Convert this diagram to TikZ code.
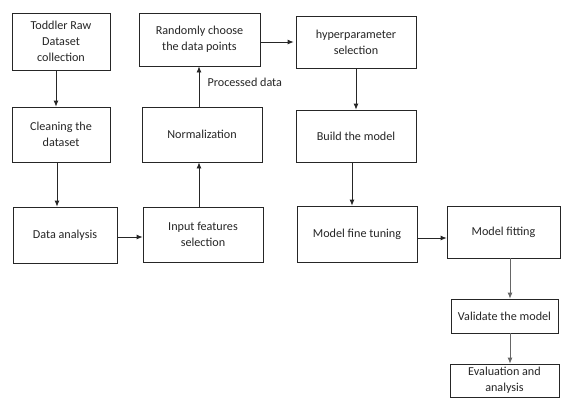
\documentclass[tikz,border=0pt]{standalone}
\usepackage{fontspec}
\setmainfont{Carlito}
\usetikzlibrary{arrows.meta}

\begin{document}
\begin{tikzpicture}[
  x=1bp, y=-1bp,
  every node/.style={font=\fontsize{12.2}{16}\selectfont, text=black!85},
  blk/.style={draw=black!85, line width=0.8bp, align=center, inner sep=0pt},
  arr/.style={draw=black!85, line width=0.8bp, -{Latex[length=6bp, width=5bp]}}
]

  % ==========================================
  % 1. AREA
  % ==========================================
  \useasboundingbox[fill=white] (0,0) rectangle (561,398);

  % ==========================================
  % 2. BLOQUES
  % ==========================================
  \node[blk, minimum width=98bp,  minimum height=57bp] (raw)   at (61,41.5)    {Toddler Raw\\Dataset\\collection};
  \node[blk, minimum width=98bp,  minimum height=55bp] (clean) at (61,134.5)   {Cleaning the\\dataset};
  \node[blk, minimum width=104bp, minimum height=56bp] (anal)  at (65,235)     {Data analysis};
  \node[blk, minimum width=120bp, minimum height=55bp] (feat)  at (203,234.5)  {Input features\\selection};
  \node[blk, minimum width=120bp, minimum height=55bp] (norm)  at (202,134.5)  {Normalization};
  \node[blk, minimum width=121bp, minimum height=53bp] (rand)  at (199.5,39.5) {Randomly choose\\the data points};
  \node[blk, minimum width=120bp, minimum height=52bp] (hyper) at (356,42)     {hyperparameter\\selection};
  \node[blk, minimum width=120bp, minimum height=52bp] (build) at (356,136)    {Build the model};
  \node[blk, minimum width=120bp, minimum height=56bp] (tune)  at (357,234)    {Model fine tuning};
  \node[blk, minimum width=113bp, minimum height=52bp] (fit)   at (503.5,232)  {Model fitting};
  \node[blk, minimum width=107bp, minimum height=34bp] (valid) at (504.5,316)  {Validate the model};
  \node[blk, minimum width=109bp, minimum height=33bp] (eval)  at (504.5,380.5) {Evaluation and\\analysis};

  % ==========================================
  % 3. FLECHAS
  % ==========================================
  \coordinate (a1) at ([xshift=-5bp]raw.south);
  \draw[arr] (a1) -- (a1 |- clean.north);
  \coordinate (a2) at ([xshift=-4bp]clean.south);
  \draw[arr] (a2) -- (a2 |- anal.north);
  \coordinate (a3) at ([yshift=-2bp]anal.east);
  \draw[arr] (a3) -- (a3 -| feat.west);
  \coordinate (a4) at ([xshift=-4bp]feat.north);
  \draw[arr] (a4) -- (a4 |- norm.south);
  \coordinate (a5) at ([xshift=-3bp]norm.north);
  \draw[arr] (a5) -- (a5 |- rand.south);
  \node[anchor=west] (proc) at ([xshift=5bp, yshift=24bp]a5) {Processed data};
  \coordinate (a6) at (hyper.west -| rand.east);
  \draw[arr, shorten >=2bp] (a6) -- (hyper.west);
  \draw[arr] (hyper.south) -- (build.north);
  \coordinate (a7) at ([xshift=-4bp]build.south);
  \draw[arr] (a7) -- (a7 |- tune.north);
  \coordinate (a8) at ([yshift=-4bp]tune.east);
  \draw[arr] (a8) -- (a8 -| fit.west);
  \coordinate (a9) at ([xshift=6.5bp]fit.south);
  \draw[arr, draw=black!60] (a9) -- (a9 |- valid.north);
  \coordinate (a10) at ([xshift=5.5bp]valid.south);
  \draw[arr, draw=black!60] (a10) -- (a10 |- eval.north);

\end{tikzpicture}
\end{document}
